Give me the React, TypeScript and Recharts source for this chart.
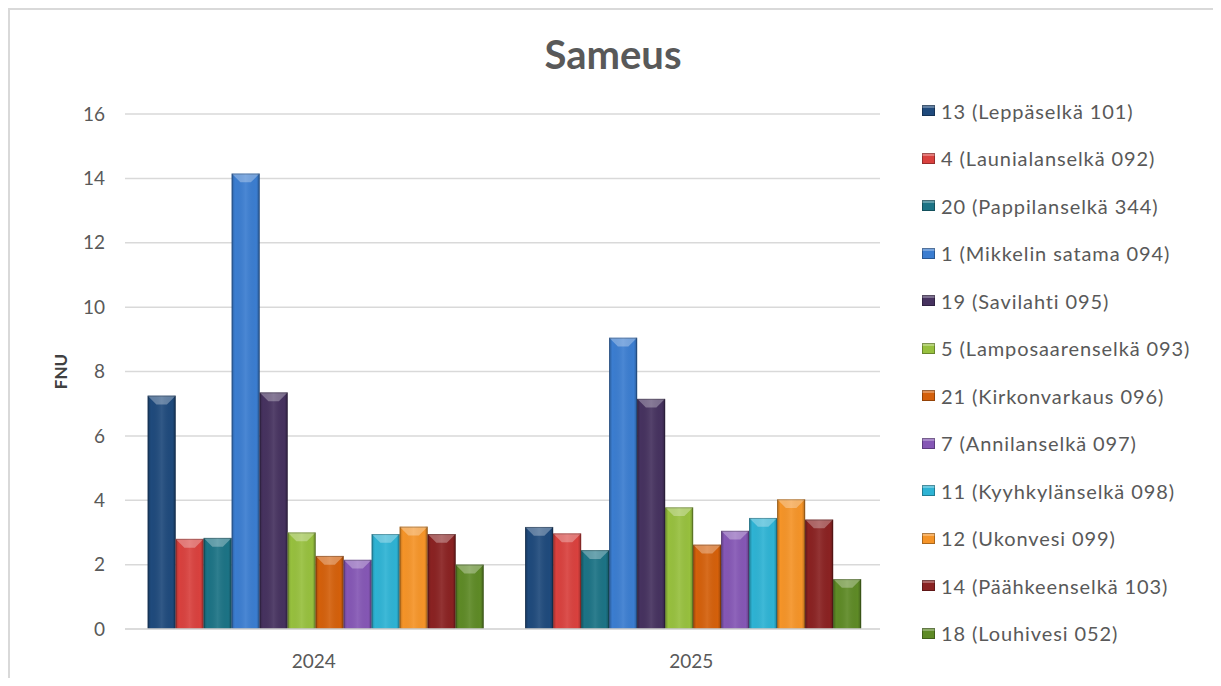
import React from 'react'
import { BarChart, Bar, XAxis, YAxis, CartesianGrid, Legend } from 'recharts'

// years on the x axis
const years = ['2024', '2025']

// sampling stations, in legend order
const stations = [
  '13 (Leppäselkä 101)',
  '4 (Launialanselkä 092)',
  '20 (Pappilanselkä 344)',
  '1 (Mikkelin satama 094)',
  '19 (Savilahti 095)',
  '5 (Lamposaarenselkä 093)',
  '21 (Kirkonvarkaus 096)',
  '7 (Annilanselkä 097)',
  '11 (Kyyhkylänselkä 098)',
  '12 (Ukonvesi 099)',
  '14 (Päähkeenselkä 103)',
  '18 (Louhivesi 052)',
]

// turbidity (FNU) per station, same order as stations
const values2024 = [7.25, 2.8, 2.83, 14.15, 7.35, 3.0, 2.27, 2.15, 2.95, 3.18, 2.95, 2.0]
const values2025 = [3.17, 2.97, 2.45, 9.05, 7.15, 3.78, 2.62, 3.05, 3.45, 4.03, 3.4, 1.55]

const yTicks = [0, 2, 4, 6, 8, 10, 12, 14, 16]

const colors = [
  '#1f4a7c', '#d9413e', '#1c7385', '#3b7dd0', '#46325f', '#97c03e',
  '#d4600b', '#8557b5', '#2eb3d4', '#f59428', '#8a2222', '#5e8a26',
]

const yearValues = [values2024, values2025]
const data = years.map((year, i) => {
  const row: Record<string, string | number> = { year }
  stations.forEach((s, j) => { row[s] = yearValues[i][j] })
  return row
})

const FONT = 'Lato, "Open Sans", sans-serif'
const GREY = '#595959'

function BevelBar(props: any) {
  const { x, y, width, height, fill } = props
  if (!height || height <= 0) return null
  const b = Math.min(9, width / 3.2, height / 2)
  return (
    <g>
      <rect x={x} y={y} width={width} height={height} fill={fill} />
      <rect x={x} y={y} width={width} height={height} fill="url(#barShade)" />
      <polygon
        points={`${x},${y} ${x + width},${y} ${x + width - b},${y + b} ${x + b},${y + b}`}
        fill="#ffffff"
        fillOpacity={0.3}
      />
      <rect x={x + 0.5} y={y + 0.5} width={width - 1} height={height - 1} fill="none" stroke="#000" strokeOpacity={0.25} />
    </g>
  )
}

// legend drawn straight from the station list so it keeps the source order
function LegendList() {
  return (
    <div style={{ fontFamily: FONT, fontSize: 20, letterSpacing: 0.9, color: GREY }}>
      {stations.map((s, i) => (
        <div key={s} style={{ height: 47.5, display: 'flex', alignItems: 'center', whiteSpace: 'nowrap' }}>
          <span
            style={{
              display: 'inline-block', width: 13, height: 11, marginRight: 6,
              background: colors[i], boxShadow: 'inset 0 0 0 1px rgba(0,0,0,0.3), inset 0 3px 0 rgba(255,255,255,0.3)',
            }}
          />
          {s}
        </div>
      ))}
    </div>
  )
}

export default function App() {
  return (
    <div
      style={{
        position: 'relative', width: 1210, height: 670, boxSizing: 'border-box',
        border: '2px solid #d9d9d9', borderBottom: 'none', background: '#fff', fontFamily: FONT,
      }}
    >
      <div
        style={{
          position: 'absolute', top: 24, left: 0, width: '100%', textAlign: 'center',
          fontSize: 40, lineHeight: '40px', fontWeight: 700, color: GREY,
        }}
      >
        Sameus
      </div>
      <BarChart
        width={1206}
        height={668}
        data={data}
        margin={{ top: 104, right: 336, bottom: 19, left: 55 }}
        barCategoryGap="6%"
        barGap={0}
      >
        <defs>
          <linearGradient id="barShade" x1="0" y1="0" x2="1" y2="0">
            <stop offset="0%" stopColor="#000" stopOpacity={0.22} />
            <stop offset="12%" stopColor="#000" stopOpacity={0} />
            <stop offset="50%" stopColor="#fff" stopOpacity={0.08} />
            <stop offset="88%" stopColor="#000" stopOpacity={0} />
            <stop offset="100%" stopColor="#000" stopOpacity={0.28} />
          </linearGradient>
        </defs>
        <CartesianGrid vertical={false} stroke="#d9d9d9" strokeWidth={1.5} />
        <XAxis
          dataKey="year"
          height={30}
          tickLine={false}
          tickSize={18}
          tickMargin={8}
          axisLine={{ stroke: '#d9d9d9', strokeWidth: 1.5 }}
          tick={{ fill: GREY, fontSize: 19, fontFamily: FONT }}
        />
        <YAxis
          width={60}
          domain={[0, 16]}
          ticks={yTicks}
          axisLine={false}
          tickLine={false}
          tickSize={12}
          tickMargin={8}
          tick={{ fill: GREY, fontSize: 19, fontFamily: FONT }}
          label={{
            content: (p: any) => {
              const vb = p.viewBox || {}
              const cy = vb.y + vb.height / 2
              return (
                <text
                  x={50}
                  y={cy}
                  transform={`rotate(-90 50 ${cy})`}
                  textAnchor="middle"
                  dominantBaseline="central"
                  fill="#404040"
                  fontSize={17}
                  fontWeight={700}
                  fontFamily={FONT}
                >
                  FNU
                </text>
              )
            },
          }}
        />
        <Legend
          layout="vertical"
          align="center"
          verticalAlign="middle"
          wrapperStyle={{ left: 912, top: 77, width: 294 }}
          content={<LegendList />}
        />
        {stations.map((s, i) => (
          <Bar key={s} dataKey={s} fill={colors[i]} shape={<BevelBar />} isAnimationActive={false} />
        ))}
      </BarChart>
    </div>
  )
}
